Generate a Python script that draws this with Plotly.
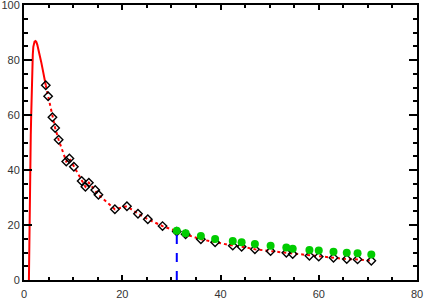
import plotly.graph_objects as go

# Solid model curve
curve_x = [1.0, 1.05, 1.1, 1.2, 1.3, 1.38, 1.46, 1.53, 1.6, 1.7, 1.79, 1.9, 2.0, 2.15, 2.34,
           2.5, 2.7, 2.9, 3.15, 3.5, 3.82, 4.1, 4.43]
curve_y = [0, 10, 20, 34, 45, 53, 59.4, 66, 71.5, 78, 82.0, 84.8, 86.0, 86.7, 86.9,
           86.6, 85.6, 84.2, 82.2, 79.3, 76.4, 73.8, 70.8]

# Diamond measurements (joined by dotted line)
diam_x = [4.43, 4.91, 5.79, 6.34, 7.05, 8.6, 9.24, 10.15, 11.74, 12.5, 13.2, 14.5, 15.15,
          18.5, 20.95, 23.2, 25.2, 28.2, 31.1, 32.9, 36.0, 38.9, 42.5, 44.3, 47.0, 50.2,
          53.4, 54.7, 58.1, 60.0, 63.0, 65.7, 67.9, 70.7]
diam_y = [70.8, 66.8, 59.2, 55.3, 51.0, 43.1, 44.2, 41.2, 36.0, 33.9, 35.4, 32.7, 31.0,
          25.7, 26.8, 24.1, 22.1, 19.6, 17.6, 16.6, 14.8, 13.7, 12.5, 12.1, 11.2, 10.5,
          9.9, 9.45, 8.8, 8.5, 8.1, 7.6, 7.5, 7.0]

# Green points
green_x = [31.1, 32.9, 36.0, 38.9, 42.5, 44.3, 47.0, 50.2, 53.4, 54.7, 58.1, 60.0, 63.0, 65.7, 67.9, 70.7]
green_y = [17.9, 17.0, 16.0, 14.9, 14.2, 13.7, 13.1, 12.5, 11.8, 11.4, 10.9, 10.7, 10.3, 9.9, 9.7, 9.3]

# Vertical marker line
cut_x = [31.1, 31.1]
cut_y = [0, 17.9]

x_ticks = [0, 20, 40, 60, 80]
y_ticks = [0, 20, 40, 60, 80, 100]

fig = go.Figure()
fig.add_trace(go.Scatter(x=curve_x, y=curve_y, mode="lines",
                         line=dict(color="#ff0000", width=2),
                         showlegend=False))
fig.add_trace(go.Scatter(x=diam_x, y=diam_y, mode="lines+markers",
                         line=dict(color="#ff0000", width=2, dash="dot"),
                         marker=dict(symbol="diamond-open", size=6.5, color="black",
                                     line=dict(color="black", width=1.4)),
                         showlegend=False))
fig.add_trace(go.Scatter(x=cut_x, y=cut_y, mode="lines",
                         line=dict(color="#0000ff", width=2, dash="dash"),
                         showlegend=False))
fig.add_trace(go.Scatter(x=green_x, y=green_y, mode="markers",
                         marker=dict(symbol="circle", size=8, color="#00cc00"),
                         showlegend=False))
# invisible trace to anchor the mirrored tick axes
fig.add_trace(go.Scatter(x=[None], y=[None], xaxis="x2", yaxis="y2", mode="markers",
                         showlegend=False, hoverinfo="skip"))

font = dict(family="Liberation Sans", size=11, color="#333333")
common = dict(showgrid=False, zeroline=False, showline=True, linecolor="black",
              linewidth=2, ticks="inside", tickcolor="black", tickwidth=2,
              automargin=False, fixedrange=True)

xminor = dict(dtick=5, tick0=0, ticks="inside", ticklen=3, tickcolor="black", tickwidth=2)
yminor = dict(dtick=5, tick0=0, ticks="inside", ticklen=4, tickcolor="black", tickwidth=2)

fig.update_layout(
    width=425, height=300, margin=dict(l=24, r=8, t=5, b=20),
    paper_bgcolor="white", plot_bgcolor="white", showlegend=False,
    xaxis=dict(range=[0, 80], tickvals=x_ticks, ticktext=[str(v) for v in x_ticks],
               ticklen=5, minor=xminor, tickfont=font, ticklabeloverflow="allow",
               ticklabelstandoff=3, **common),
    yaxis=dict(range=[0, 100], tickvals=y_ticks, ticktext=[str(v) for v in y_ticks],
               ticklen=8, minor=yminor, tickfont=font, ticklabeloverflow="allow", **common),
    xaxis2=dict(range=[0, 80], tickvals=x_ticks, ticklen=5, minor=xminor,
                overlaying="x", side="top", showticklabels=False, anchor="y", **common),
    yaxis2=dict(range=[0, 100], tickvals=y_ticks, ticklen=8, minor=yminor,
                overlaying="y", side="right", showticklabels=False, anchor="x", **common),
)

fig.write_html("out.html", config={"displayModeBar": False},
               post_script="document.body.style.margin='0';document.body.style.overflow='hidden';")
